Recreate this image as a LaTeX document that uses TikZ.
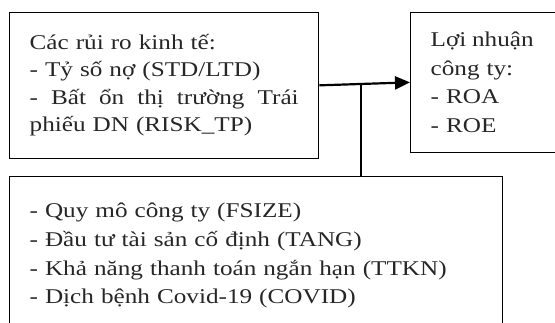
\documentclass[tikz,border=0pt]{standalone}
\usepackage{fontspec}
\setmainfont[FakeStretch=1.2]{Liberation Serif}
\usetikzlibrary{arrows.meta, calc}

\begin{document}
\begin{tikzpicture}[x=1pt, y=-1pt, >={Triangle[length=15pt, width=13pt]},
    box/.style={rectangle, draw, line width=1.3pt, inner xsep=20pt, inner ysep=0pt, align=left, text=black!85},
    txt/.style={font=\fontsize{21}{27.5}\selectfont},
    link/.style={line width=2.2pt}]

    \useasboundingbox (0,0) rectangle (555,322);
    \clip (0,0) rectangle (555,322);

    \node[box, txt, text width=269pt, minimum height=146pt, anchor=north west] (risk) at (9,11.7)
        {Các rủi ro kinh tế:\\
         - Tỷ số nợ (STD/LTD)\\
         \makebox[269pt]{-\hfill Bất\hfill ổn\hfill thị\hfill trường\hfill Trái}\\
         phiếu DN (RISK\_TP)};
    \node[box, font=\fontsize{21}{28.7}\selectfont, text width=125pt, minimum height=140pt, anchor=north west] (profit) at (410,11.7)
        {\makebox[103pt]{Lợi\hfill nhuận}\\
         công ty:\\
         - ROA\\
         - ROE};
    \node[box, font=\fontsize{21}{28.7}\selectfont, text width=453pt, minimum height=158pt, anchor=north west] (ctrl) at (9,176)
        {- Quy mô công ty (FSIZE)\\
         - Đầu tư tài sản cố định (TANG)\\
         - Khả năng thanh toán ngắn hạn (TTKN)\\
         - Dịch bệnh Covid-19 (COVID)};

    \coordinate (join) at ($(risk.east)!0.457!(profit.west)$);
    \draw[link, ->] (risk.east) -- (profit.west);
    \draw[link] (join) -- (join |- ctrl.north);
\end{tikzpicture}
\end{document}
